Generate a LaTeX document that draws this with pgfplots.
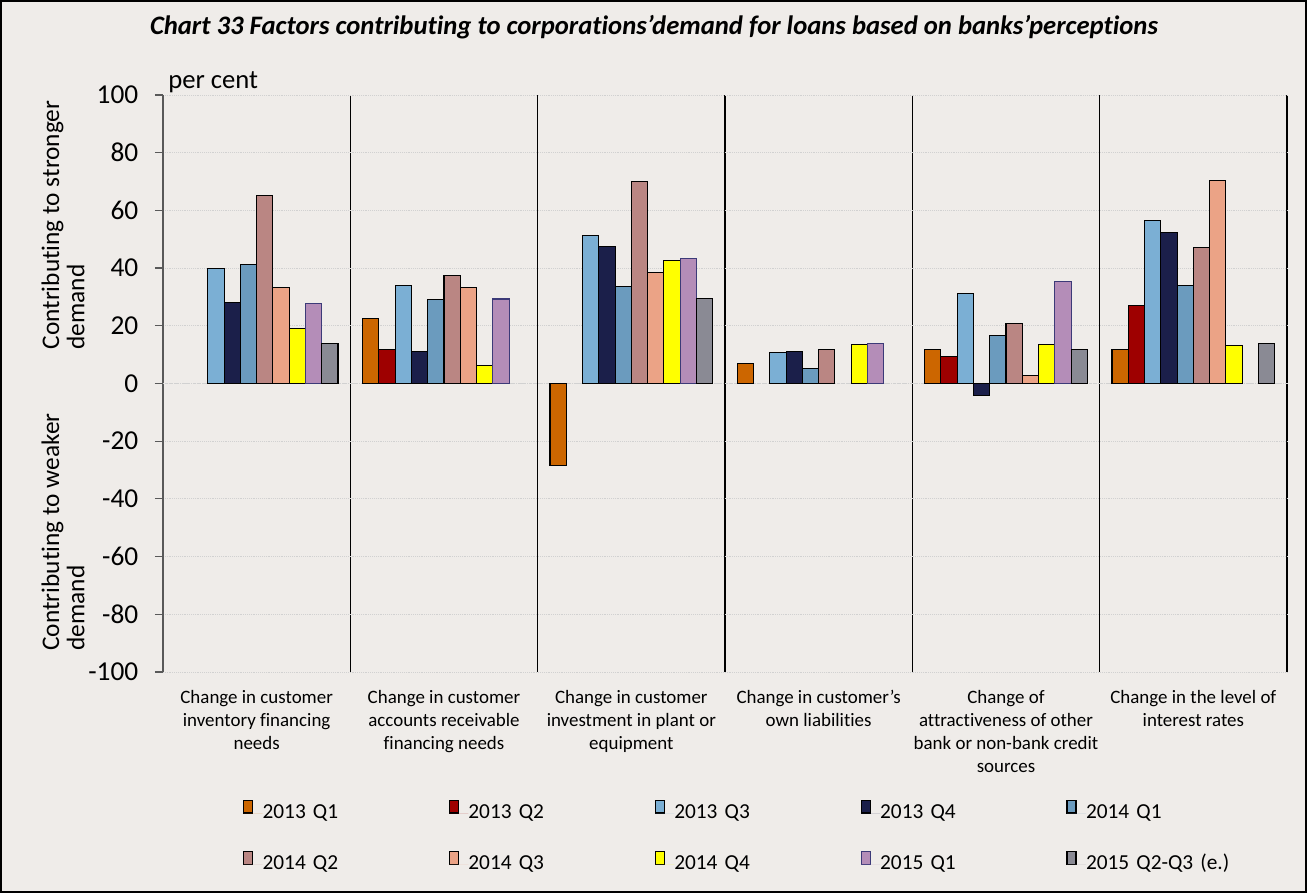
\documentclass[border=0pt]{standalone}
\usepackage{fontspec}
\setmainfont{Carlito}[Ligatures=NoCommon]
\usepackage{pgfplots}
\pgfplotsset{compat=1.18}
\definecolor{bg}{HTML}{EFECE9}
\definecolor{axgray}{HTML}{595959}
\definecolor{cA}{HTML}{CC6600}
\definecolor{cB}{HTML}{9E0000}
\definecolor{cC}{HTML}{7BAFD4}
\definecolor{cD}{HTML}{1B1F4A}
\definecolor{cE}{HTML}{6B9BBE}
\definecolor{cF}{HTML}{BA8683}
\definecolor{cG}{HTML}{EBA386}
\definecolor{cH}{HTML}{FFFF00}
\definecolor{cI}{HTML}{B48DB8}
\definecolor{cIb}{HTML}{3C3A78}
\definecolor{cJ}{HTML}{8A8A94}
\begin{document}
\begin{tikzpicture}
\fill[bg] (0,0) rectangle (980.25pt,669.75pt);
\draw[black, line width=1.2pt] (0.6pt,0.6pt) rectangle (979.65pt,669.15pt);
\node[font=\fontsize{20}{24}\selectfont\bfseries\itshape] at (490.5pt,649.5pt) {Chart 33 Factors contributing to corporations’demand for loans based on banks’perceptions};
\node[anchor=base west, font=\fontsize{20}{22}\selectfont, inner sep=0pt] at (126pt,603pt) {per cent};
\node[rotate=90, align=left, font=\fontsize{19}{19}\selectfont] at (47.25pt,501pt) {Contributing to stronger\\demand};
\node[rotate=90, align=left, font=\fontsize{19}{19}\selectfont] at (47.25pt,270.75pt) {Contributing to weaker\\demand};
\begin{axis}[
  at={(122.25pt,165.75pt)}, anchor=south west,
  scale only axis, width=843pt, height=432.75pt,
  xmin=-0.5, xmax=5.5, ymin=-100, ymax=100,
  ybar=0pt, bar width=12.2pt,
  axis y line*=left,
  x axis line style={draw=none},
  y axis line style={draw=axgray, line width=1.1pt},
  ytick={-100,-80,...,100},
  yticklabels={-100,-80,-60,-40,-20,0,20,40,60,80,100},
  yticklabel style={font=\fontsize{20.5}{22}\selectfont, xshift=-9pt},
  tick align=outside,
  ytick style={draw=axgray, line width=0.9pt},
  major tick length=6pt,
  ymajorgrids=true,
  major y grid style={densely dotted, draw=black!18, line width=0.6pt},
  xtick={0,1,2,3,4,5},
  xticklabels={{Change in customer\\inventory financing\\needs},{Change in customer\\accounts receivable\\financing needs},{Change in customer\\investment in plant or\\equipment},{Change in customer's\\own liabilities},{Change of\\attractiveness of other\\bank or non-bank credit\\sources},{Change in the level of\\interest rates}},
  xticklabel style={font=\fontsize{14.2}{17.3}\selectfont, align=center, yshift=-4pt},
  xtick style={draw=none},
  minor xtick={0.5,1.5,2.5,3.5,4.5,5.5},
  xminorgrids=true,
  minor x grid style={draw=black, line width=1pt},
  extra y ticks={0}, extra y tick labels={},
  extra y tick style={grid=major, major grid style={draw=axgray, solid, line width=1.1pt}},
  every axis plot post/.append style={legend image code/.code={\draw[##1] (0pt,0.3pt) rectangle (6.75pt,10pt); \path[draw=none] (0pt,0pt) -- (14.25pt,0pt);}},
  legend columns=5,
  legend cell align=left,
  legend style={draw=none, fill=none, at={(axis description cs:0.0712,-0.221)}, anchor=north west, inner sep=0pt, outer sep=0pt, column sep=0pt, row sep=20pt,
    nodes={font=\fontsize{16}{19}\selectfont, text width=139.75pt, align=left, inner xsep=0pt, inner ysep=0pt, text height=12pt, text depth=4pt}},
]
\addplot[fill=cA, draw=black, line width=0.8pt] coordinates {(1,22.6) (2,-28.5) (3,6.9) (4,11.9) (5,11.7)};
\addlegendentry{2013 Q1}
\addplot[fill=cB, draw=black, line width=0.8pt] coordinates {(1,11.7) (4,9.4) (5,27.0)};
\addlegendentry{2013 Q2}
\addplot[fill=cC, draw=black, line width=0.8pt] coordinates {(0,40.0) (1,34.1) (2,51.4) (3,10.9) (4,31.3) (5,56.4)};
\addlegendentry{2013 Q3}
\addplot[fill=cD, draw=black, line width=0.8pt] coordinates {(0,28.2) (1,11.0) (2,47.4) (3,11.2) (4,-4.3) (5,52.5)};
\addlegendentry{2013 Q4}
\addplot[fill=cE, draw=black, line width=0.8pt] coordinates {(0,41.2) (1,29.1) (2,33.6) (3,5.2) (4,16.7) (5,34.0)};
\addlegendentry{2014 Q1}
\addplot[fill=cF, draw=black, line width=0.8pt] coordinates {(0,65.2) (1,37.4) (2,69.9) (3,11.9) (4,20.8) (5,47.2)};
\addlegendentry{2014 Q2}
\addplot[fill=cG, draw=black, line width=0.8pt] coordinates {(0,33.2) (1,33.3) (2,38.5) (4,2.8) (5,70.5)};
\addlegendentry{2014 Q3}
\addplot[fill=cH, draw=black, line width=0.8pt] coordinates {(0,19.1) (1,6.1) (2,42.7) (3,13.5) (4,13.6) (5,13.1)};
\addlegendentry{2014 Q4}
\addplot[fill=cI, draw=cIb, line width=0.8pt] coordinates {(0,27.8) (1,29.3) (2,43.4) (3,13.8) (4,35.2)};
\addlegendentry{2015 Q1}
\addplot[fill=cJ, draw=black, line width=0.8pt] coordinates {(0,13.8) (2,29.4) (4,11.9) (5,13.9)};
\addlegendentry{2015 Q2-Q3 (e.)}
\end{axis}
\end{tikzpicture}
\end{document}
